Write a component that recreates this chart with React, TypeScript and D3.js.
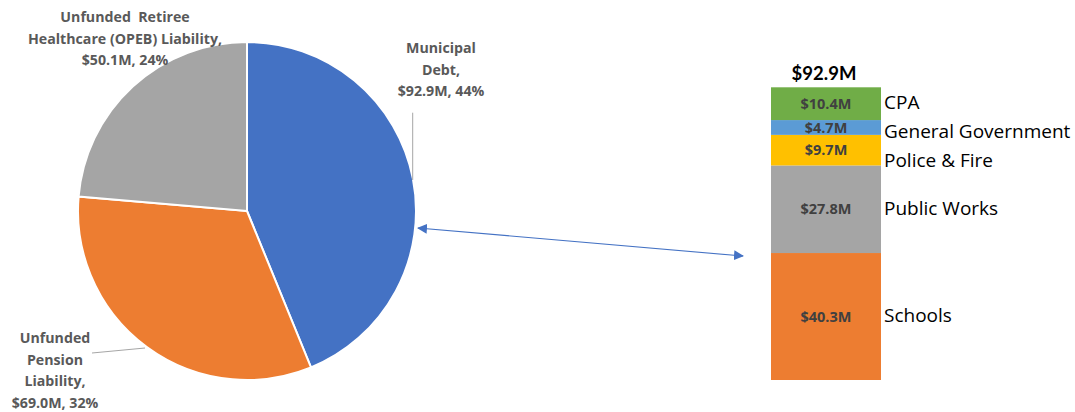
import React from "react";
import * as d3 from "d3";

const pieNames = ["Municipal Debt", "Unfunded Pension Liability", "Unfunded Retiree Healthcare (OPEB) Liability"];
const pieValues = [92.9, 69.0, 50.1];
const piePercents = ["44%", "32%", "24%"];
const pieColors = ["#4472C4", "#ED7D31", "#A5A5A5"];
const pieLabelLines = [
  ["Municipal", "Debt,", "$92.9M, 44%"],
  ["Unfunded", "Pension", "Liability,", "$69.0M, 32%"],
  ["Unfunded  Retiree", "Healthcare (OPEB) Liability,", "$50.1M, 24%"],
];

const barCategories = ["Schools", "Public Works", "Police & Fire", "General Government", "CPA"];
const barValues = [40.3, 27.8, 9.7, 4.7, 10.4];
const barColors = ["#ED7D31", "#A5A5A5", "#FFC000", "#5B9BD5", "#70AD47"];
const barTotalLabel = "$92.9M";

const W = 1075;
const H = 412;

export default function App() {
  const cx = 247, cy = 211, r = 169;
  const pie = d3.pie<number>().sort(null).value((d) => d)(pieValues);
  const arc = d3.arc<d3.PieArcDatum<number>>().innerRadius(0).outerRadius(r);

  // pie label anchors (centre of text block, first baseline)
  const labelPos = [
    { x: 441, y: 53 },
    { x: 55, y: 343 },
    { x: 125, y: 22 },
  ];
  const lineH = 21.5;

  // stacked bar
  const barX = 771, barW = 110;
  const total = d3.sum(barValues);
  const y = d3.scaleLinear().domain([0, total]).range([380, 87.3]);
  const stack: { cat: string; v: number; y0: number; y1: number; c: string }[] = [];
  let acc = 0;
  barValues.forEach((v, i) => {
    stack.push({ cat: barCategories[i], v, y0: acc, y1: acc + v, c: barColors[i] });
    acc += v;
  });
  // label collision avoidance from top
  const ordered = [...stack].reverse();
  const labelY: number[] = [];
  let prev = -Infinity;
  ordered.forEach((s) => {
    const c = (y(s.y0) + y(s.y1)) / 2 - 1.5;
    const yy = Math.max(c, prev + 29);
    labelY.push(yy);
    prev = yy;
  });

  const os = "'Open Sans', sans-serif";
  const lato = "Lato, sans-serif";

  return (
    <svg width={W} height={H} viewBox={`0 0 ${W} ${H}`} style={{ display: "block", position: "absolute", left: 0, top: 0 }}>
      <defs>
        <marker id="arr" viewBox="0 0 10 10" refX="9" refY="5" markerWidth="10" markerHeight="10" markerUnits="userSpaceOnUse" orient="auto-start-reverse">
          <path d="M0,0 L10,5 L0,10 z" fill="#4472C4" />
        </marker>
      </defs>
      <rect width={W} height={H} fill="#fff" />
      <g transform={`translate(${cx},${cy})`}>
        {pie.map((p, i) => (
          <path key={i} d={arc(p) || ""} fill={pieColors[i]} stroke="#fff" strokeWidth={2} />
        ))}
      </g>
      {/* leader lines */}
      <line x1={412.7} y1={112.7} x2={412.7} y2={180} stroke="#A6A6A6" strokeWidth={1} />
      <line x1={92} y1={353} x2={145} y2={348} stroke="#A6A6A6" strokeWidth={1} />
      {pieLabelLines.map((lines, i) => (
        <text key={i} textAnchor="middle" fontFamily={os} fontWeight={700} fontSize={14.2} fill="#595959">
          {lines.map((l, j) => (
            <tspan key={j} x={labelPos[i].x} y={labelPos[i].y + j * lineH} style={{ whiteSpace: "pre" }}>
              {l}
            </tspan>
          ))}
        </text>
      ))}
      {/* arrow */}
      <line x1={418} y1={228} x2={743} y2={256} stroke="#4472C4" strokeWidth={1.2} markerStart="url(#arr)" markerEnd="url(#arr)" />
      {/* stacked bar */}
      {stack.map((s, i) => (
        <g key={i}>
          <rect x={barX} y={y(s.y1)} width={barW} height={y(s.y0) - y(s.y1)} fill={s.c} />
          <text x={barX + barW / 2} y={(y(s.y0) + y(s.y1)) / 2} dy="0.36em" textAnchor="middle" fontFamily={os} fontWeight={700} fontSize={14.5} fill="#404040">
            {"$" + s.v.toFixed(1) + "M"}
          </text>
        </g>
      ))}
      <text x={barX + barW / 2 - 2} y={80} textAnchor="middle" fontFamily={lato} fontWeight={700} fontSize={18.5} fill="#000">
        {barTotalLabel}
      </text>
      {ordered.map((s, i) => (
        <text key={i} x={884} y={labelY[i]} dy="0.36em" fontFamily={os} fontSize={19} fill="#000">
          {s.cat}
        </text>
      ))}
    </svg>
  );
}
